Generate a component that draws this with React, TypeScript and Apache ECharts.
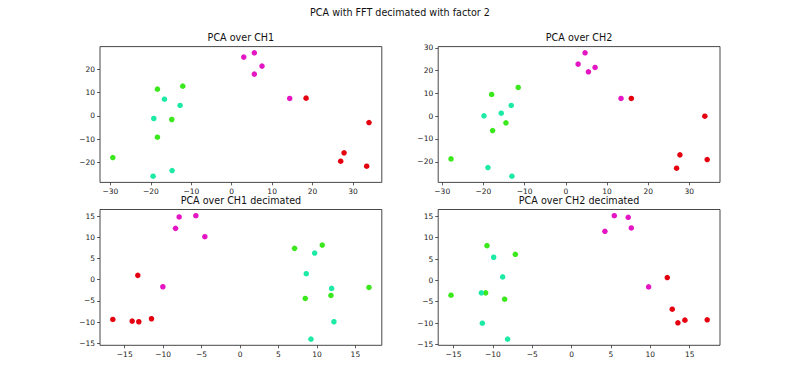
import React, { useEffect, useRef } from "react";
import * as echarts from "echarts";

// ---- data ----
const suptitle = "PCA with FFT decimated with factor 2";
const panelTitles = ["PCA over CH1", "PCA over CH2", "PCA over CH1 decimated", "PCA over CH2 decimated"];

const ticksTop = [-30, -20, -10, 0, 10, 20, 30];
const ticksBottom = [-15, -10, -5, 0, 5, 10, 15];

const ch1Magenta = [[2.98, 25.14], [5.6, 27.0], [7.5, 21.29], [5.6, 17.86], [14.35, 7.43]];
const ch1Red = [[18.4, 7.57], [33.97, -2.86], [27.8, -15.86], [26.97, -19.43], [33.4, -21.57]];
const ch1Green = [[-18.38, 11.43], [-12.11, 12.71], [-14.83, -1.57], [-18.38, -9.14], [-29.42, -17.86]];
const ch1Teal = [[-16.64, 7.14], [-12.77, 4.43], [-19.28, -1.14], [-19.45, -25.86], [-14.75, -23.43]];

const ch2Magenta = [[4.68, 27.82], [2.99, 22.84], [5.49, 19.47], [7.11, 21.38], [13.41, 7.76]];
const ch2Red = [[15.91, 7.76], [33.76, 0], [27.71, -16.98], [26.9, -22.84], [34.33, -19.03]];
const ch2Green = [[-18.01, 9.52], [-11.55, 12.59], [-14.54, -2.93], [-17.77, -6.3], [-27.87, -18.74]];
const ch2Teal = [[-19.87, 0.15], [-15.67, 1.32], [-13.25, 4.69], [-18.9, -22.55], [-13.09, -26.35]];

const d1Magenta = [[-7.92, 14.84], [-5.75, 15.15], [-8.39, 12.15], [-4.58, 10.18], [-10.04, -1.66]];
const d1Red = [[-13.3, 1.03], [-16.55, -9.39], [-14.03, -9.79], [-13.17, -9.94], [-11.52, -9.23]];
const d1Green = [[7.09, 7.42], [10.69, 8.21], [16.77, -1.82], [11.82, -3.71], [8.48, -4.42]];
const d1Teal = [[9.7, 6.31], [8.61, 1.42], [11.91, -2.05], [12.21, -9.94], [9.22, -14.05]];

const d2Magenta = [[4.23, 11.5], [5.42, 15.16], [7.19, 14.77], [7.58, 12.28], [9.78, -1.52]];
const d2Red = [[12.15, 0.66], [12.78, -6.74], [13.5, -9.94], [14.39, -9.31], [17.22, -9.24]];
const d2Green = [[-10.75, 8.14], [-7.15, 6.12], [-15.32, -3.47], [-10.92, -2.92], [-8.51, -4.4]];
const d2Teal = [[-9.9, 5.42], [-8.76, 0.82], [-11.47, -2.92], [-11.34, -10.02], [-8.13, -13.76]];

const classColors = ["#e415c3", "#e5000f", "#3ae81c", "#1deaa5"];

const panels = [
  { sets: [ch1Magenta, ch1Red, ch1Green, ch1Teal], ticks: ticksTop },
  { sets: [ch2Magenta, ch2Red, ch2Green, ch2Teal], ticks: ticksTop },
  { sets: [d1Magenta, d1Red, d1Green, d1Teal], ticks: ticksBottom },
  { sets: [d2Magenta, d2Red, d2Green, d2Teal], ticks: ticksBottom },
];

// ---- layout (matplotlib-like subplot geometry) ----
const W = 800;
const H = 388;
const axW = 281.8;
const axH = 135.8;
const lefts = [100, 438.2, 100, 438.2];
const tops = [46.6, 46.6, 209.5, 209.5];
const FONT = "DejaVu Sans";

const fmt = (v: number) => (v < 0 ? "\u2212" + Math.abs(v) : String(v));

function extent(sets: number[][][], k: number) {
  let lo = Infinity;
  let hi = -Infinity;
  sets.forEach((s) => s.forEach((p) => { lo = Math.min(lo, p[k]); hi = Math.max(hi, p[k]); }));
  const m = (hi - lo) * 0.05;
  return [lo - m, hi + m];
}

function buildOption() {
  const grid: any[] = [];
  const xAxis: any[] = [];
  const yAxis: any[] = [];
  const series: any[] = [];
  const graphic: any[] = [];

  panels.forEach((p, i) => {
    grid.push({
      left: lefts[i], top: tops[i], width: axW, height: axH,
      show: true, borderColor: "#333333", borderWidth: 0.9, backgroundColor: "transparent",
      containLabel: false,
    });
    const [xmin, xmax] = extent(p.sets, 0);
    const [ymin, ymax] = extent(p.sets, 1);
    const xt = p.ticks.filter((t) => t >= xmin && t <= xmax);
    const yt = p.ticks.filter((t) => t >= ymin && t <= ymax);
    const common = {
      type: "value",
      gridIndex: i,
      splitLine: { show: false },
      axisLine: { show: false, onZero: false },
    };
    xAxis.push({
      ...common, position: "bottom", min: xmin, max: xmax,
      axisTick: { show: true, inside: false, length: 3, customValues: xt, lineStyle: { color: "#333333", width: 0.8 } },
      axisLabel: { customValues: xt, formatter: fmt, margin: 5, fontFamily: FONT, fontSize: 7.5, color: "#222" },
    });
    yAxis.push({
      ...common, position: "left", min: ymin, max: ymax,
      axisTick: { show: true, inside: false, length: 3, customValues: yt, lineStyle: { color: "#333333", width: 0.8 } },
      axisLabel: { customValues: yt, formatter: fmt, margin: 5, fontFamily: FONT, fontSize: 7.5, color: "#222" },
    });
    p.sets.forEach((s, c) => {
      series.push({
        type: "scatter", xAxisIndex: i, yAxisIndex: i, data: s,
        symbolSize: 5.5, itemStyle: { color: classColors[c], opacity: 1 },
        emphasis: { disabled: true }, silent: true,
      });
    });
    graphic.push({
      type: "text", x: lefts[i] + axW / 2, y: tops[i] - 9.5,
      style: { text: panelTitles[i], align: "center", verticalAlign: "middle", fontFamily: FONT, fontSize: 9.6, fill: "#111" },
    });
  });

  graphic.push({
    type: "text", x: W / 2, y: 12.5,
    style: { text: suptitle, align: "center", verticalAlign: "middle", fontFamily: FONT, fontSize: 9.6, fill: "#111" },
  });

  return {
    animation: false,
    backgroundColor: "#ffffff",
    grid, xAxis, yAxis, series, graphic,
  };
}

export default function App() {
  const ref = useRef<HTMLDivElement>(null);
  useEffect(() => {
    if (!ref.current) return;
    const chart = echarts.init(ref.current, null, { renderer: "svg" });
    chart.setOption(buildOption() as any);
    return () => chart.dispose();
  }, []);
  return (
    <div
      ref={ref}
      style={{ position: "fixed", left: 0, top: 0, width: W, height: H, background: "#fff" }}
    />
  );
}
